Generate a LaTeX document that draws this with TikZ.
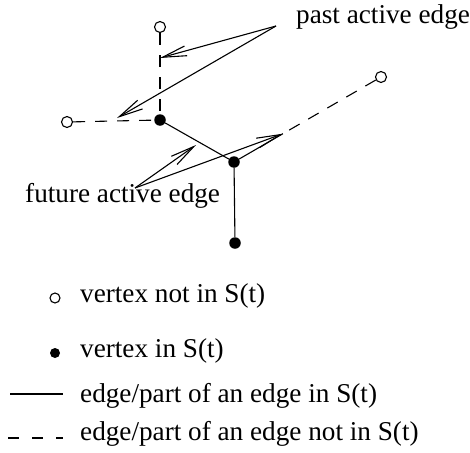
\documentclass[tikz,border=0pt]{standalone}
\usepackage{fontspec}
\setmainfont{Liberation Serif}
\usetikzlibrary{arrows.meta,calc}
\tikzset{
  openv/.style={circle,draw,fill=white,inner sep=0pt,minimum size=11pt,line width=1.1pt},
  solidv/.style={circle,fill=black,inner sep=0pt,minimum size=11.5pt},
  legopen/.style={circle,draw,inner sep=0pt,minimum size=10pt,line width=1.1pt},
  legsolid/.style={circle,fill=black,inner sep=0pt,minimum size=10pt},
  edgeline/.style={line width=1.1pt},
  dashedge/.style={line width=1.1pt,dash pattern=on 12pt off 10pt},
  legdash/.style={line width=1.1pt,dash pattern=on 11pt off 13pt},
  pointer/.style={line width=1.1pt,-{Straight Barb[length=24pt,width=10pt,line width=1.1pt]}},
  lbl/.style={anchor=base west,inner sep=0pt,font=\fontsize{27.2}{32}\selectfont}
}
\begin{document}
\begin{tikzpicture}[x=1pt,y=-1pt]
\useasboundingbox (0,0) rectangle (470,452);
% vertices
\node[openv] (T) at (160,27) {};
\node[solidv] (A) at (160,120) {};
\node[openv] (L) at (67,122) {};
\node[solidv] (B) at (234,162) {};
\node[solidv] (C) at (235,243) {};
\node[openv] (R) at (381,77) {};
% edges
\draw[dashedge] (T) -- (A);
\draw[dashedge] (L) -- (A);
\draw[edgeline] (A) -- (B);
\draw[edgeline] (B) -- (C);
\coordinate (X) at ($(B)!0.333!(R)$);
\draw[edgeline] (B) -- (X);
\draw[dashedge] (R) -- (X);
% labels
\node[lbl] (P) at (296,24) {past active edge};
\node[lbl] (F) at (25,202) {future active edge};
\coordinate (ps) at (276,26);
\coordinate (fs) at (135,188);
\coordinate (pt1) at ($(T)!0.333!(A)$);
\coordinate (pt2) at (117,118);
\coordinate (ft1) at (196,145);
\draw[pointer] (ps) -- (pt1);
\draw[pointer] (ps) -- (pt2);
\draw[pointer] (fs) -- (ft1);
\draw[pointer] (fs) -- (X);
% legend
\node[legopen] (lo) at (55,298) {};
\node[lbl] (l1) at (80,302) {vertex not in S(t)};
\node[legsolid] (ls) at (55,353) {};
\node[lbl] (l2) at (80,357) {vertex in S(t)};
\coordinate (s1) at (10,394);
\coordinate (s2) at (63,394);
\draw[edgeline] (s1) -- (s2);
\node[lbl] (l3) at (80,402) {edge/part of an edge in S(t)};
\coordinate (d1) at (8,438);
\coordinate (d2) at (63,438);
\draw[legdash] (d1) -- (d2);
\node[lbl] (l4) at (80,440) {edge/part of an edge not in S(t)};
\end{tikzpicture}
\end{document}
